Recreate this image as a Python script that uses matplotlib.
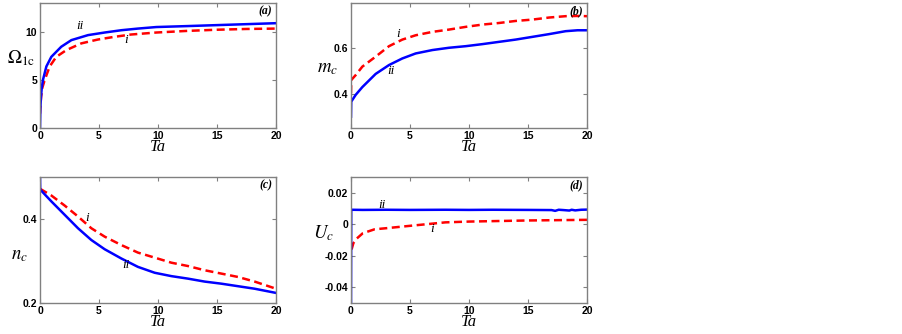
import matplotlib
matplotlib.use("Agg")
import matplotlib.pyplot as plt

plt.rcParams["mathtext.fontset"] = "stix"

# ---------------- data ----------------
ta_a_ii = [0, 0.03, 0.08, 0.15, 0.25, 0.54, 0.96, 1.8, 2.66, 4.07, 5.48, 6.9, 8.3, 9.86, 12.5, 15, 17.5, 20]
om_ii   = [0, 2.0, 3.2, 4.2, 5.0, 6.4, 7.4, 8.45, 9.14, 9.66, 9.93, 10.17, 10.34, 10.5, 10.6, 10.7, 10.8, 10.9]
ta_a_i  = [0, 0.05, 0.1, 0.2, 0.4, 0.82, 1.38, 2.23, 3.5, 4.9, 6.3, 7.7, 9.86, 12.5, 15, 17.5, 20]
om_i    = [1.5, 2.6, 3.3, 4.2, 5.0, 6.4, 7.4, 8.1, 8.8, 9.2, 9.48, 9.72, 9.93, 10.1, 10.22, 10.3, 10.34]

ta_b_ii = [0, 0.02, 0.4, 0.96, 2.09, 3.22, 4.35, 5.48, 6.9, 8.3, 9.72, 11.13, 12.54, 13.95, 15.37, 16.78, 18.19, 19.2, 20]
m_ii    = [0.30, 0.366, 0.396, 0.43, 0.488, 0.527, 0.556, 0.578, 0.593, 0.603, 0.61, 0.619, 0.629, 0.639, 0.651, 0.663, 0.676, 0.68, 0.68]
ta_b_i  = [0, 0.02, 0.4, 0.96, 2.09, 3.22, 4.35, 5.48, 6.9, 8.3, 9.72, 11.13, 12.54, 13.95, 15.37, 16.78, 18.19, 19.2, 20]
m_i     = [0.403, 0.461, 0.483, 0.52, 0.564, 0.61, 0.639, 0.658, 0.673, 0.683, 0.695, 0.705, 0.712, 0.721, 0.727, 0.736, 0.742, 0.743, 0.742]

ta_c_ii = [0, 0.02, 0.96, 2.09, 3.22, 4.35, 5.48, 6.89, 8.3, 9.72, 11.13, 12.54, 13.95, 15.37, 16.78, 18.19, 20]
n_ii    = [0.50, 0.47, 0.442, 0.41, 0.378, 0.35, 0.328, 0.306, 0.286, 0.272, 0.264, 0.258, 0.251, 0.246, 0.24, 0.234, 0.224]
ta_c_i  = [0, 0.96, 2.09, 3.22, 4.35, 5.48, 6.89, 8.3, 9.72, 11.13, 12.54, 13.95, 15.37, 16.78, 18.19, 20]
n_i     = [0.472, 0.456, 0.432, 0.406, 0.378, 0.358, 0.338, 0.32, 0.308, 0.296, 0.288, 0.278, 0.27, 0.262, 0.251, 0.234]

ta_d_ii = [0, 0.02, 0.05, 1, 3, 5, 8, 10, 12, 15, 17, 17.3, 17.6, 18, 18.5, 18.7, 19, 19.5, 20]
u_ii    = [-0.05, 0.009, 0.0092, 0.0091, 0.0092, 0.0091, 0.0092, 0.0091, 0.0092, 0.0091, 0.0090, 0.0085, 0.0092, 0.0090, 0.0087, 0.0092, 0.0088, 0.0092, 0.0093]
ta_d_i  = [0.05, 0.2, 0.5, 1, 2, 3, 5, 8, 10, 15, 20]
u_i     = [-0.016, -0.012, -0.009, -0.0057, -0.0032, -0.0025, -0.001, 0.0012, 0.0017, 0.0024, 0.0028]

x_ticks = [0, 5, 10, 15, 20]

# ---------------- figure ----------------
fig = plt.figure(figsize=(9.02, 3.34), dpi=100)
W, H = 902, 334

def add_axes(x0, y0, x1, y1):
    return fig.add_axes([x0 / W, 1 - y1 / H, (x1 - x0) / W, (y1 - y0) / H])

def fig_text(px, py, s, **kw):
    fig.text(px / W, 1 - py / H, s, **kw)

axA = add_axes(40, 3, 276, 128)
axB = add_axes(351, 3, 587, 128)
axC = add_axes(40, 177, 276, 303)
axD = add_axes(351, 177, 587, 303)

blue = "#0000ff"
red = "#ff0000"
lw = 1.8
dash = (0, (3.2, 1.8))

def style(ax, ylim, yticks, yticklabels, panel):
    ax.set_xlim(0, 20)
    ax.set_ylim(*ylim)
    ax.set_xticks(x_ticks)
    ax.set_yticks(yticks)
    ax.set_yticklabels(yticklabels)
    ax.tick_params(direction="in", length=3, width=0.8, top=True, right=True,
                   colors="#808080", labelcolor="black", labelsize=7.5, pad=2)
    for lab in ax.get_xticklabels() + ax.get_yticklabels():
        lab.set_family("Liberation Sans")
        lab.set_fontweight("bold")
    for s in ax.spines.values():
        s.set_color("#808080")
        s.set_linewidth(1.0)
    ax.set_xlabel("Ta", family="Liberation Serif", style="italic", fontsize=12, labelpad=-1)
    ax.text(0.985, 0.985, panel, transform=ax.transAxes, ha="right", va="top",
            family="Liberation Serif", style="italic", fontweight="bold", fontsize=8.5,
            zorder=5)

def curve_label(ax, x, y, s):
    ax.text(x, y, s, ha="center", va="center", family="Liberation Serif",
            style="italic", fontsize=9.5)

# (a)
axA.plot(ta_a_i, om_i, color=red, lw=lw, linestyle=dash)
axA.plot(ta_a_ii, om_ii, color=blue, lw=lw)
style(axA, (0, 13), [0, 5, 10], ["0", "5", "10"], "(a)")
fig_text(21, 58, r"$\Omega_{\mathrm{1c}}$", ha="center", va="center", fontsize=13.5)
curve_label(axA, 3.4, 10.65, "ii")
curve_label(axA, 7.3, 9.15, "i")

# (b)
axB.plot(ta_b_i, m_i, color=red, lw=lw, linestyle=dash)
axB.plot(ta_b_ii, m_ii, color=blue, lw=lw)
style(axB, (0.25, 0.8), [0.4, 0.6], ["0.4", "0.6"], "(b)")
fig_text(328, 67, r"$m_c$", ha="center", va="center", fontsize=13.5)
curve_label(axB, 4.0, 0.662, "i")
curve_label(axB, 3.4, 0.50, "ii")

# (c)
axC.plot(ta_c_i, n_i, color=red, lw=lw, linestyle=dash)
axC.plot(ta_c_ii, n_ii, color=blue, lw=lw)
style(axC, (0.2, 0.5), [0.2, 0.4], ["0.2", "0.4"], "(c)")
fig_text(19, 255, r"$n_c$", ha="center", va="center", fontsize=13.5)
curve_label(axC, 4.0, 0.403, "i")
curve_label(axC, 7.3, 0.29, "ii")

# (d)
axD.plot(ta_d_i, u_i, color=red, lw=lw, linestyle=dash)
axD.plot(ta_d_ii, u_ii, color=blue, lw=lw)
style(axD, (-0.05, 0.03), [-0.04, -0.02, 0, 0.02], ["-0.04", "-0.02", "0", "0.02"], "(d)")
fig_text(324, 233, r"$U_c$", ha="center", va="center", fontsize=13.5)
curve_label(axD, 2.6, 0.0125, "ii")
curve_label(axD, 6.9, -0.003, "i")

fig.savefig("out.png", dpi=100)
